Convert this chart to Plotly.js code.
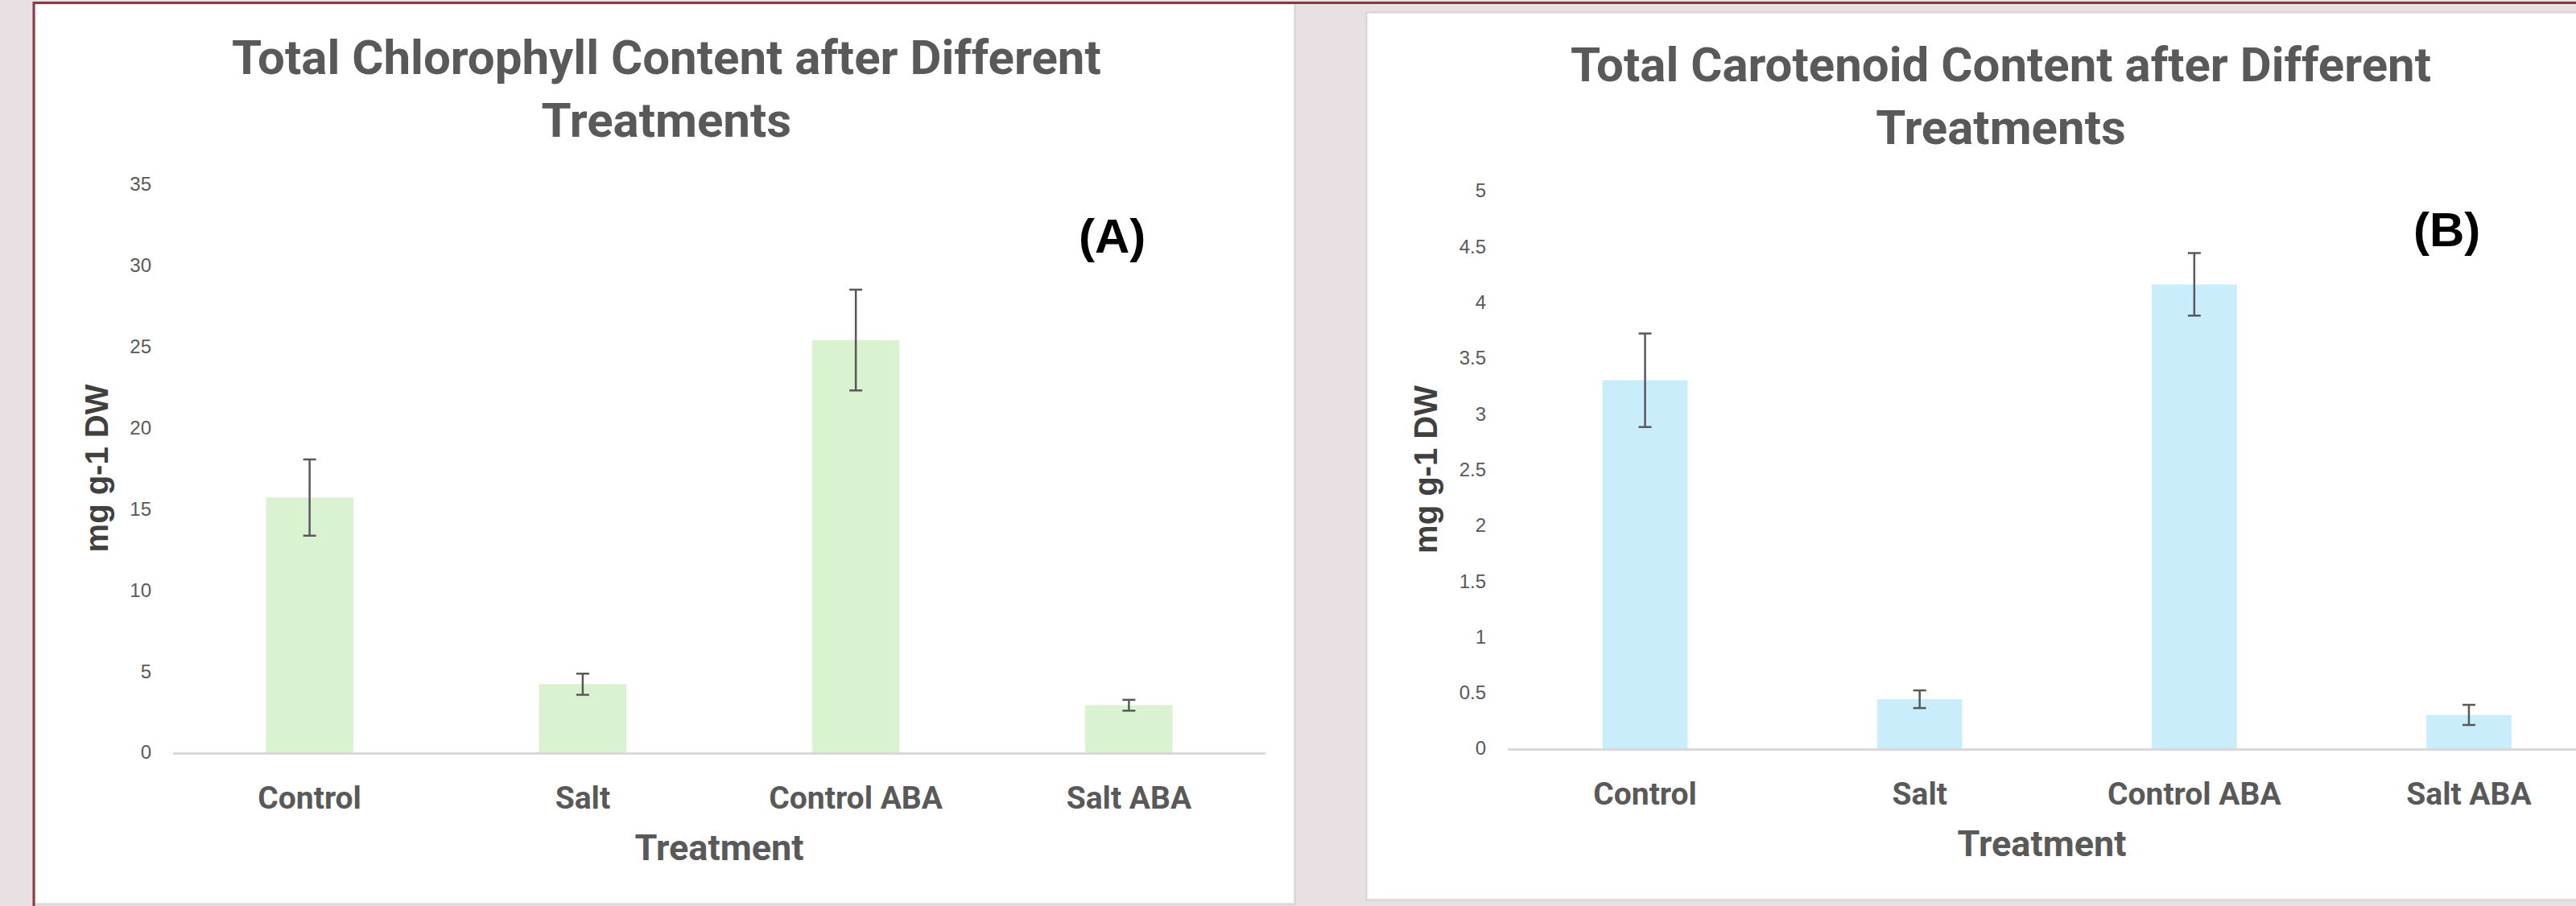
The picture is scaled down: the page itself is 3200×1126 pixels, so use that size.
<!DOCTYPE html>
<html>
<head>
<meta charset="utf-8">
<script src="https://cdn.plot.ly/plotly-3.0.1.min.js"></script>
<style>
  html, body { margin: 0; padding: 0; background: #e8e0e2; overflow: hidden; }
  #chart { width: 3200px; height: 1126px; }
</style>
</head>
<body>
<div id="chart"></div>
<script>
// Treatments shown on both panels
const treatments = ['Control', 'Salt', 'Control ABA', 'Salt ABA'];

// (A) total chlorophyll, mg g-1 DW, with error (±)
const chlorophyll = [15.7, 4.2, 25.4, 2.9];
const chlorophyllErr = [2.35, 0.65, 3.1, 0.33];

// (B) total carotenoids, mg g-1 DW, with error (±)
const carotenoid = [3.3, 0.44, 4.16, 0.3];
const carotenoidErr = [0.42, 0.08, 0.28, 0.09];

const W = 3200, H = 1126;
const px = x => x / W;          // pixel -> paper x
const py = y => 1 - y / H;      // pixel -> paper y

const GREY = '#595959';
const TITLE_FONT = { family: 'Roboto, "Liberation Sans", sans-serif', size: 60, color: GREY, weight: 700 };
const TICK_X_FONT = { family: 'Roboto, "Liberation Sans", sans-serif', size: 39, color: GREY, weight: 700 };
const TICK_Y_FONT = { family: '"Liberation Sans", Arial, sans-serif', size: 24, color: GREY };
const XTITLE_FONT = { family: 'Roboto, "Liberation Sans", sans-serif', size: 45, color: GREY, weight: 700 };
const YTITLE_FONT = { family: '"Liberation Sans", Arial, sans-serif', size: 40, color: '#404040', weight: 700 };
const LABEL_FONT = { family: '"Liberation Sans", Arial, sans-serif', size: 60, color: '#000000', weight: 700 };

const errStyle = { thickness: 2.5, width: 8, color: GREY };

const traces = [
  {
    type: 'bar', x: treatments, y: chlorophyll, width: 0.32,
    marker: { color: '#d9f2d0' },
    error_y: Object.assign({ type: 'data', array: chlorophyllErr, visible: true }, errStyle),
    xaxis: 'x', yaxis: 'y', hoverinfo: 'x+y', showlegend: false
  },
  {
    type: 'bar', x: treatments, y: carotenoid, width: 0.31,
    marker: { color: '#caedfb' },
    error_y: Object.assign({ type: 'data', array: carotenoidErr, visible: true }, errStyle),
    xaxis: 'x2', yaxis: 'y2', hoverinfo: 'x+y', showlegend: false
  }
];

function xAxis(domain, range, anchor) {
  return {
    domain: domain, anchor: anchor, type: 'category', range: range,
    showline: true, linecolor: '#d9d9d9', linewidth: 3,
    showgrid: false, zeroline: false, ticks: '',
    tickfont: TICK_X_FONT, ticklabelstandoff: 20,
    title: { text: 'Treatment', font: XTITLE_FONT, standoff: 24 },
    fixedrange: true
  };
}
function yAxis(domain, range, dtick, anchor) {
  return {
    domain: domain, anchor: anchor, range: range, dtick: dtick, tick0: 0,
    showline: false, showgrid: false, zeroline: false, ticks: '',
    tickfont: TICK_Y_FONT, ticklabelstandoff: 26,
    title: { text: 'mg g-1 DW', font: YTITLE_FONT, standoff: 14 },
    fixedrange: true
  };
}

const layout = {
  width: W, height: H,
  margin: { l: 0, r: 0, t: 0, b: 0 },
  paper_bgcolor: '#e8e0e2',
  plot_bgcolor: 'rgba(0,0,0,0)',
  showlegend: false,
  xaxis: xAxis([px(215), px(1572)], [-0.5, 3.5], 'y'),
  yaxis: yAxis([py(935), py(229)], [0, 35], 5, 'x'),
  xaxis2: xAxis([px(1873), 1], [-0.5, 3.39], 'y2'),
  yaxis2: yAxis([py(930), py(237)], [0, 5], 0.5, 'x2'),
  shapes: [
    // white cards behind each chart
    { type: 'rect', xref: 'paper', yref: 'paper', layer: 'below',
      x0: px(43), x1: px(1608), y0: py(1123), y1: py(5),
      fillcolor: '#ffffff', line: { color: 'rgba(0,0,0,0.07)', width: 3 } },
    { type: 'rect', xref: 'paper', yref: 'paper', layer: 'below',
      x0: px(1698), x1: px(3215), y0: py(1118), y1: py(16),
      fillcolor: '#ffffff', line: { color: 'rgba(0,0,0,0.07)', width: 3 } },
    // dark red frame lines
    { type: 'line', xref: 'paper', yref: 'paper', layer: 'above',
      x0: px(41), x1: 1, y0: py(3.5), y1: py(3.5),
      line: { color: '#8b3547', width: 3 } },
    { type: 'line', xref: 'paper', yref: 'paper', layer: 'above',
      x0: px(42), x1: px(42), y0: py(2), y1: 0,
      line: { color: '#8b3547', width: 3 } }
  ],
  annotations: [
    { xref: 'paper', yref: 'paper', x: px(828), y: py(110), xanchor: 'center', yanchor: 'middle',
      text: 'Total Chlorophyll Content after Different<br>Treatments', showarrow: false,
      font: TITLE_FONT, align: 'center' },
    { xref: 'paper', yref: 'paper', x: px(2485), y: py(119), xanchor: 'center', yanchor: 'middle',
      text: 'Total Carotenoid Content after Different<br>Treatments', showarrow: false,
      font: TITLE_FONT, align: 'center' },
    { xref: 'paper', yref: 'paper', x: px(1381), y: py(293), xanchor: 'center', yanchor: 'middle',
      text: '(A)', showarrow: false, font: LABEL_FONT },
    { xref: 'paper', yref: 'paper', x: px(3039), y: py(285), xanchor: 'center', yanchor: 'middle',
      text: '(B)', showarrow: false, font: LABEL_FONT }
  ]
};

Plotly.newPlot('chart', traces, layout, { staticPlot: true, displayModeBar: false });
</script>
</body>
</html>
